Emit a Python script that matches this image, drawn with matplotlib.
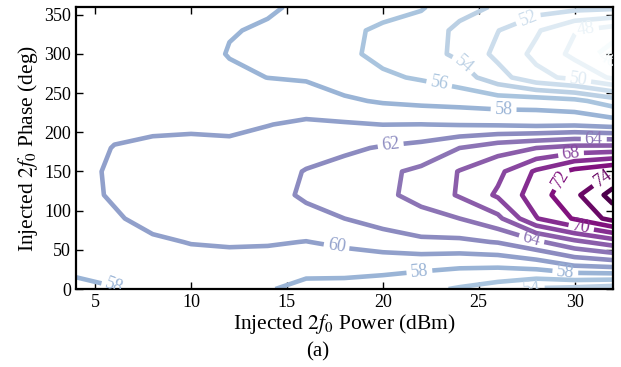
import numpy as np
import matplotlib
matplotlib.use('Agg')
import matplotlib.pyplot as plt

plt.rcParams['font.family'] = 'serif'
plt.rcParams['font.serif'] = ['Liberation Serif', 'DejaVu Serif']
plt.rcParams['mathtext.fontset'] = 'stix'

# injected 2f0 power (dBm) / phase (deg) grid
power_dbm = [4, 6, 8, 10, 12, 14, 16, 18, 20, 22, 24, 26, 28, 30, 32]
phase_deg = [0, 30, 60, 90, 120, 150, 180, 210, 240, 270, 300, 330, 360]

# values, one row per phase
pae = [
    [57.6, 57.9, 58.9, 59.0, 58.6, 58.1, 57.6, 57.3, 57.0, 56.5, 55.8, 55.0, 53.8, 53.5, 53.0],
    [58.4, 58.8, 59.3, 59.5, 59.3, 59.0, 58.5, 58.8, 58.7, 58.5, 58.3, 58.3, 58.8, 60.05, 60.5],
    [59.0, 59.4, 59.8, 60.05, 60.2, 60.2, 59.95, 60.4, 61.0, 61.6, 61.6, 62.1, 63.6, 65.5, 67.0],
    [59.4, 59.85, 60.4, 60.5, 60.7, 60.9, 61.4, 62.0, 62.8, 63.4, 64.0, 65.5, 69.9, 72.2, 74.7],
    [59.6, 60.15, 60.5, 60.7, 60.9, 61.3, 62.3, 62.8, 63.6, 64.6, 66.2, 68.3, 71.0, 73.5, 76.8],
    [59.6, 60.2, 60.5, 60.6, 60.8, 61.2, 62.1, 62.8, 63.6, 64.4, 66.1, 67.5, 70.3, 72.6, 74.0],
    [59.5, 60.05, 60.2, 60.3, 60.3, 60.7, 61.2, 61.6, 62.2, 62.7, 64.0, 65.2, 66.0, 66.7, 66.8],
    [59.3, 59.7, 59.8, 59.8, 59.7, 59.95, 60.3, 60.2, 59.98, 60.02, 59.9, 59.8, 59.6, 59.7, 59.2],
    [59.1, 59.4, 59.4, 59.3, 59.0, 59.2, 59.0, 58.3, 57.8, 57.5, 57.3, 57.0, 57.0, 56.5, 55.0],
    [59.0, 59.2, 59.2, 59.0, 58.4, 57.98, 57.8, 57.0, 56.3, 55.8, 55.0, 52.8, 50.6, 49.5, 47.7],
    [58.9, 59.1, 59.1, 58.8, 57.9, 57.7, 57.2, 56.4, 55.5, 54.8, 53.6, 51.5, 49.5, 47.5, 45.0],
    [58.8, 59.0, 59.1, 58.9, 58.1, 57.8, 57.3, 56.5, 55.6, 55.0, 53.6, 52.05, 50.25, 48.1, 47.0],
    [58.6, 58.8, 59.0, 59.0, 58.6, 58.2, 57.7, 57.1, 56.8, 56.2, 54.6, 53.8, 53.0, 52.7, 52.5],
]

levels = [46, 48, 50, 52, 54, 56, 58, 60, 62, 64, 66, 68, 70, 72, 74, 76]

# where the inline labels sit (power, phase)
label_spots = [(27.6, 344), (30.6, 331), (31.7, 291), (30.2, 268), (24.0, 282),
               (22.9, 257), (26.3, 231), (21.9, 24), (6.0, 5), (17.6, 56),
               (20.4, 186), (27.75, 63), (31.0, 188), (29.8, 175), (30.35, 79),
               (29.2, 142), (31.3, 148), (29.5, 17), (27.75, 3)]

X, Y = np.meshgrid(power_dbm, phase_deg)
Z = np.array(pae)

fig = plt.figure(figsize=(6.21, 3.67), dpi=100)
ax = fig.add_axes([0.1224, 0.2125, 0.8646, 0.7685])

cs = ax.contour(X, Y, Z, levels=levels, cmap='BuPu', vmin=46, vmax=76, linewidths=3.3)
ax.clabel(cs, inline=True, fmt='%d', fontsize=13, manual=label_spots, inline_spacing=4)

ax.set_xlim(4, 32)
ax.set_ylim(0, 360)
ax.set_xticks([5, 10, 15, 20, 25, 30])
ax.set_yticks([0, 50, 100, 150, 200, 250, 300, 350])
ax.tick_params(direction='in', top=True, right=True, length=5, width=1, labelsize=13)
for s in ax.spines.values():
    s.set_linewidth(1.6)

ax.set_xlabel('Injected $2f_0$ Power (dBm)', fontsize=15.5, labelpad=1)
ax.set_ylabel('Injected $2f_0$ Phase (deg)', fontsize=15.5, labelpad=3)
fig.text(0.512, 0.04, '(a)', ha='center', va='center', fontsize=15)

plt.savefig('out.png', dpi=100)
